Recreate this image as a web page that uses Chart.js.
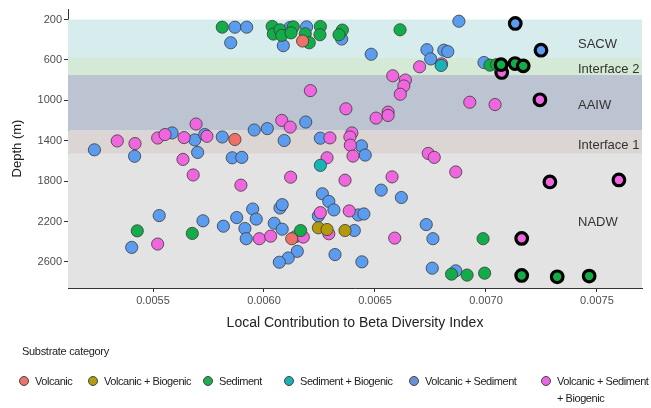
<!DOCTYPE html>
<html>
<head>
<meta charset="utf-8">
<script src="https://cdn.jsdelivr.net/npm/chart.js@4.4.1/dist/chart.umd.min.js"></script>
<style>
  html, body { margin: 0; padding: 0; background: #fff; }
  #wrap { position: relative; width: 651px; height: 408px; font-family: "Liberation Sans", sans-serif; color: #222; }
  #chart { position: absolute; left: 0; top: 0; }
  .legend-title { position: absolute; left: 22px; top: 345px; font-size: 11px; letter-spacing: -0.3px; }
  .legend-item { position: absolute; top: 373px; font-size: 11px; letter-spacing: -0.45px; line-height: 17px; white-space: nowrap; }
  .legend-item .dot { position: absolute; left: -16px; top: 3px; width: 10px; height: 10px; border-radius: 50%; border: 1px solid #444; box-sizing: border-box; }
</style>
</head>
<body>
<div id="wrap">
  <canvas id="chart" width="651" height="408"></canvas>
  <div class="legend-title">Substrate category</div>
  <div id="legend"></div>
</div>
<script>
// water mass bands (depth in m)
const bandNames = ['SACW', 'Interface 2', 'AAIW', 'Interface 1', 'NADW'];
const bandTop = [200, 580, 750, 1300, 1530];
const bandBottom = [580, 750, 1300, 1530, 3000];
const bandLabelDepth = [445, 690, 1050, 1445, 2210];

const xTicks = [0.0055, 0.0060, 0.0065, 0.0070, 0.0075];
const yTicks = [200, 600, 1000, 1400, 1800, 2200, 2600];

const categories = ['Volcanic', 'Volcanic + Biogenic', 'Sediment', 'Sediment + Biogenic', 'Volcanic + Sediment', 'Volcanic + Sediment\n+ Biogenic'];

const volcanicLcbd = [0.006174, 0.005869, 0.006125];
const volcanicDepth = [413, 1388, 2370];
const volcanicSig = [0, 0, 0];

const volcBioLcbd = [0.006245, 0.006284, 0.006365];
const volcBioDepth = [2262, 2279, 2289];
const volcBioSig = [0, 0, 0];

const sedimentLcbd = [0.005812, 0.006037, 0.006042, 0.006072, 0.006080, 0.006132, 0.006122, 0.006186, 0.006254, 0.006252,
  0.006204, 0.006353, 0.006338, 0.006613, 0.005429, 0.005677, 0.006165, 0.006987, 0.006845, 0.006915,
  0.006994, 0.007018, 0.007048, 0.007068, 0.007131, 0.007168, 0.007161, 0.007321, 0.007465];
const sedimentDepth = [276, 269, 344, 302, 357, 273, 332, 341, 269, 351,
  430, 305, 351, 302, 2292, 2318, 2289, 2370, 2721, 2730,
  2711, 652, 646, 647, 636, 659, 2734, 2747, 2740];
const sedimentSig = [0, 0, 0, 0, 0, 0, 0, 0, 0, 0,
  0, 0, 0, 0, 0, 0, 0, 0, 0, 0,
  0, 0, 0, 1, 1, 1, 1, 1, 1];

const sedBioLcbd = [0.006798, 0.006254];
const sedBioDepth = [655, 1644];
const sedBioSig = [0, 0];

const volcSedLcbd = [0.005869, 0.005922, 0.005850, 0.006117, 0.006192, 0.006087, 0.006350, 0.006483, 0.006734, 0.006751,
  0.006810, 0.006828, 0.006878, 0.006991,
  0.005236, 0.005417, 0.005586, 0.005688, 0.005733, 0.005701, 0.005812, 0.005956, 0.005857, 0.005900,
  0.006015, 0.006091, 0.006188, 0.006254, 0.006439, 0.006456,
  0.005528, 0.005404, 0.005725, 0.005817, 0.005877, 0.005949, 0.005965, 0.005914, 0.005920, 0.006046,
  0.006082, 0.006072, 0.006082, 0.006143, 0.006150, 0.006109, 0.006069, 0.006245, 0.006263, 0.006292,
  0.006315, 0.006320, 0.006407, 0.006425, 0.006450, 0.006441, 0.006528, 0.006619, 0.006731, 0.006761,
  0.006758, 0.006864,
  0.007132, 0.007248];
const volcSedDepth = [276, 276, 430, 279, 273, 459, 393, 544, 499, 590,
  504, 518, 217, 626,
  1490, 1554, 1323, 1392, 1339, 1516, 1363, 1294, 1569, 1565,
  1280, 1398, 1215, 1375, 1451, 1542,
  2141, 2456, 2193, 2246, 2161, 2076, 2176, 2269, 2370, 2217,
  2276, 2066, 2033, 2348, 2495, 2561, 2603, 2144, 1925, 2001,
  2085, 2527, 2289, 2135, 2125, 2599, 1889, 1962, 2230, 2370,
  2662, 2688,
  239, 504];
const volcSedSig = volcSedLcbd.map((v, i) => (i >= volcSedLcbd.length - 2 ? 1 : 0));

const allThreeLcbd = [0.006701, 0.006800, 0.006580, 0.006637, 0.006630, 0.006614, 0.006209, 0.006369, 0.006559, 0.006559,
  0.006505, 0.006927, 0.007041,
  0.005694, 0.005339, 0.005419, 0.005521, 0.005554, 0.005640, 0.005743, 0.005635, 0.006080, 0.006118, 0.006297,
  0.006396, 0.006387, 0.006389, 0.006401, 0.006284, 0.006740, 0.006767,
  0.005681, 0.005896, 0.005521, 0.005979, 0.006030, 0.006120, 0.006365, 0.006577, 0.006864, 0.006384,
  0.006254, 0.006292, 0.006177, 0.006589,
  0.007071, 0.007243, 0.007288, 0.007599, 0.007161];
const allThreeDepth = [668, 639, 757, 799, 858, 940, 904, 1084, 1117, 1150,
  1176, 1019, 1042,
  1235, 1402, 1428, 1373, 1339, 1369, 1356, 1585, 1199, 1265, 1372,
  1323, 1363, 1444, 1552, 1569, 1526, 1565,
  1739, 1840, 2423, 2370, 2345, 1761, 1791, 1758, 1709, 2095,
  2112, 2321, 2354, 2364,
  724, 995, 1808, 1788, 2367];
const allThreeSig = allThreeLcbd.map((v, i) => (i >= allThreeLcbd.length - 5 ? 1 : 0));

const BAND_COLORS = ['#d6eced', '#d5ead6', '#bcc4d1', '#dbd5d4', '#e3e3e3'];
const POINT_COLORS = ['#ef7066', '#b39a0b', '#12ad48', '#17b3b5', '#5b9cef', '#ef66de'];
const LEGEND_COLORS = ['#e8756b', '#b39b12', '#22ad4b', '#1ab0b5', '#6b8fd4', '#e868e0'];
const LEGEND_X = [35, 104, 219, 300, 425, 557];
const FONT = '"Liberation Sans", sans-serif';

function makeDataset(label, lcbd, depth, sig, color, order) {
  return {
    label,
    order,
    data: lcbd.map((x, i) => ({ x, y: depth[i] })),
    backgroundColor: color,
    pointRadius: sig.map(s => (s ? 5.8 : 6.1)),
    pointBorderWidth: sig.map(s => (s ? 3.2 : 0.8)),
    pointBorderColor: sig.map(s => (s ? '#000' : '#3a3a3a')),
    pointBackgroundColor: color
  };
}

const bandPlugin = {
  id: 'waterMasses',
  beforeDatasetsDraw(chart) {
    const { ctx, chartArea, scales } = chart;
    const y = scales.y;
    ctx.save();
    bandNames.forEach((name, i) => {
      const top = y.getPixelForValue(bandTop[i]);
      const bottom = Math.min(y.getPixelForValue(bandBottom[i]), chartArea.bottom);
      ctx.fillStyle = BAND_COLORS[i];
      ctx.fillRect(chartArea.left, top, chartArea.right - chartArea.left, bottom - top);
    });
    ctx.restore();
  },
  afterDatasetsDraw(chart) {
    const { ctx, chartArea, scales } = chart;
    ctx.save();
    ctx.fillStyle = '#333';
    ctx.font = '13px ' + FONT;
    ctx.textBaseline = 'middle';
    bandNames.forEach((name, i) => {
      ctx.fillText(name, chartArea.right - 64, scales.y.getPixelForValue(bandLabelDepth[i]));
    });
    ctx.restore();
  }
};

// eslint-disable-next-line no-new
new Chart(document.getElementById('chart'), {
  type: 'scatter',
  data: {
    datasets: [
      makeDataset(categories[4], volcSedLcbd, volcSedDepth, volcSedSig, POINT_COLORS[4], 6),
      makeDataset(categories[5], allThreeLcbd, allThreeDepth, allThreeSig, POINT_COLORS[5], 5),
      makeDataset(categories[2], sedimentLcbd, sedimentDepth, sedimentSig, POINT_COLORS[2], 4),
      makeDataset(categories[3], sedBioLcbd, sedBioDepth, sedBioSig, POINT_COLORS[3], 3),
      makeDataset(categories[1], volcBioLcbd, volcBioDepth, volcBioSig, POINT_COLORS[1], 2),
      makeDataset(categories[0], volcanicLcbd, volcanicDepth, volcanicSig, POINT_COLORS[0], 1)
    ]
  },
  options: {
    responsive: false,
    animation: false,
    events: [],
    layout: { padding: { left: 0, right: 9, top: 7, bottom: 70 } },
    plugins: { legend: { display: false }, tooltip: { enabled: false } },
    scales: {
      x: {
        type: 'linear',
        min: 0.005117,
        max: 0.007703,
        afterBuildTicks: scale => { scale.ticks = xTicks.map(value => ({ value })); },
        afterFit: scale => { scale.height = 50; },
        ticks: {
          callback: value => value.toFixed(4),
          color: '#4d4d4d',
          font: { family: FONT, size: 11 },
          padding: 2,
          maxRotation: 0
        },
        grid: { drawOnChartArea: false, drawTicks: true, tickLength: 4, color: '#333' },
        border: { display: true, color: '#333', width: 1 },
        title: {
          display: true,
          text: 'Local Contribution to Beta Diversity Index',
          color: '#222',
          font: { family: FONT, size: 14 },
          padding: { top: 0, bottom: 6 }
        }
      },
      y: {
        type: 'linear',
        reverse: true,
        min: 96,
        max: 2858,
        afterBuildTicks: scale => { scale.ticks = yTicks.map(value => ({ value })); },
        afterFit: scale => { scale.width = 68; },
        ticks: {
          callback: value => String(value),
          color: '#4d4d4d',
          font: { family: FONT, size: 11 },
          padding: 2
        },
        grid: { drawOnChartArea: false, drawTicks: true, tickLength: 4, color: '#333' },
        border: { display: true, color: '#333', width: 1 },
        title: {
          display: true,
          text: 'Depth (m)',
          color: '#222',
          font: { family: FONT, size: 13 },
          padding: { top: 10, bottom: 0 }
        }
      }
    }
  },
  plugins: [bandPlugin]
});

const legend = document.getElementById('legend');
categories.forEach((name, i) => {
  const item = document.createElement('div');
  item.className = 'legend-item';
  item.style.left = LEGEND_X[i] + 'px';
  const dot = document.createElement('span');
  dot.className = 'dot';
  dot.style.background = LEGEND_COLORS[i];
  item.appendChild(dot);
  name.split('\n').forEach((line, j) => {
    if (j > 0) item.appendChild(document.createElement('br'));
    item.appendChild(document.createTextNode(line));
  });
  legend.appendChild(item);
});
</script>
</body>
</html>
